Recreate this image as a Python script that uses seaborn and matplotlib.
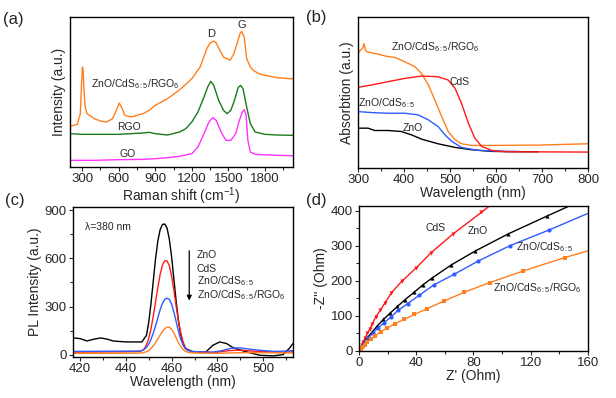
import matplotlib
matplotlib.use("Agg")
import matplotlib.pyplot as plt
from matplotlib.ticker import MultipleLocator
import seaborn as sns

# (a) Raman spectra
raman_x_orange = [200, 260, 285, 295, 302, 308, 315, 325, 340, 360, 400, 450, 500, 550, 580, 605, 625, 650,
                  700, 750, 800, 850, 900, 950, 1000, 1050, 1100, 1150, 1200, 1268, 1323, 1350, 1378, 1400,
                  1430, 1460, 1514, 1545, 1575, 1595, 1609, 1630, 1650, 1680, 1704, 1750, 1800, 1900, 2000, 2030]
raman_y_orange = [122, 128, 160, 250, 300, 290, 230, 180, 160, 155, 145, 138, 135, 145, 170, 192, 178, 155,
                  150, 155, 160, 170, 185, 195, 205, 218, 232, 248, 265, 300, 355, 372, 378, 372,
                  350, 330, 320, 340, 375, 400, 407, 390, 325, 300, 290, 280, 275, 268, 265, 265]
raman_x_rgo = [200, 300, 400, 500, 600, 700, 800, 850, 900, 1000, 1100, 1150, 1200, 1250, 1300, 1330, 1355,
               1380, 1420, 1460, 1490, 1520, 1550, 1580, 1600, 1620, 1650, 1680, 1720, 1800, 1900, 2030]
raman_y_rgo = [100, 98, 98, 98, 98, 100, 102, 104, 100, 96, 105, 115, 135, 165, 210, 240, 257,
               245, 200, 170, 160, 170, 200, 238, 245, 235, 180, 130, 105, 98, 96, 95]
raman_x_go = [200, 400, 600, 800, 900, 1000, 1100, 1200, 1250, 1300, 1340, 1372, 1400, 1440, 1480, 1520,
              1560, 1590, 1615, 1631, 1645, 1660, 1680, 1720, 1900, 2030]
raman_y_go = [20, 20, 22, 23, 25, 28, 32, 40, 60, 100, 135, 148, 140, 105, 80, 80,
              100, 140, 165, 172, 155, 80, 45, 38, 35, 34]

# (b) UV-vis absorption
abs_x_rgo = [300, 305, 310, 313, 316, 320, 330, 345, 360, 380, 402, 424, 438, 453, 467, 482, 496, 511, 525,
             547, 591, 692, 800]
abs_y_rgo = [345, 355, 360, 375, 355, 350, 347, 343, 337, 333, 320, 305, 285, 250, 205, 155, 110, 85, 73,
             68, 68, 69, 73]
abs_x_cds = [300, 329, 365, 402, 438, 474, 496, 511, 525, 540, 554, 569, 591, 620, 800]
abs_y_cds = [243, 250, 260, 270, 277, 275, 265, 240, 195, 135, 90, 65, 53, 49, 48]
abs_x_zc = [300, 329, 365, 402, 431, 453, 474, 489, 504, 525, 562, 620, 650]
abs_y_zc = [170, 167, 165, 165, 160, 145, 125, 100, 80, 62, 53, 50, 50]
abs_x_zno = [300, 322, 336, 365, 394, 416, 438, 474, 511, 547, 591, 649, 692]
abs_y_zno = [120, 120, 113, 113, 110, 100, 87, 73, 62, 55, 50, 49, 49]

# (c) PL spectra
pl_x_zno = [417, 420, 423, 426, 429, 432, 434.5, 440, 447, 449, 450, 451, 452, 453, 454, 455, 456, 457, 458,
            459, 460, 461, 462, 463, 464, 465, 466, 469.5, 475, 478, 481, 484, 487, 492.7, 498.5, 504.4,
            508.7, 511.6, 513]
pl_y_zno = [104, 100, 85, 96, 104, 96, 85, 79, 79, 120, 200, 320, 460, 600, 710, 780, 812, 815, 790,
            720, 610, 470, 330, 210, 120, 65, 38, 17, 17, 58, 79, 69, 42, 17, -4, -8,
            0, 42, 69]
pl_x_cds = [417, 440, 446, 447, 448, 449, 450, 451, 452, 453, 454, 455, 456, 457, 458, 459, 460, 461, 462,
            463, 464, 465, 466, 467, 469, 472, 480, 485, 490, 495, 500, 505, 510, 513]
pl_y_cds = [15, 18, 20, 25, 35, 60, 100, 160, 240, 330, 420, 500, 560, 585, 585, 555, 490, 400, 300,
            210, 135, 80, 45, 28, 18, 15, 15, 25, 28, 22, 20, 15, 15, 18]
pl_x_zc = [417, 446, 447, 448, 449, 450, 451, 452, 453, 454, 455, 456, 457, 458, 459, 460, 461, 462, 463,
           464, 465, 466, 467, 469, 472, 478, 482, 486, 490, 495, 500, 505, 510, 513]
pl_y_zc = [20, 22, 25, 32, 45, 65, 95, 135, 180, 230, 280, 320, 345, 352, 345, 315, 265, 205, 145,
           95, 60, 38, 27, 20, 17, 15, 25, 40, 42, 32, 25, 20, 22, 25]
pl_x_rgo = [417, 445, 447, 449, 450, 451, 452, 453, 454, 455, 456, 457, 458, 459, 460, 461, 462, 463, 464,
            465, 466, 468, 472, 480, 490, 500, 513]
pl_y_rgo = [8, 9, 10, 18, 25, 38, 55, 75, 98, 122, 145, 162, 172, 170, 158, 135, 105, 75, 50,
            32, 20, 12, 9, 8, 12, 12, 10]

# (d) Nyquist plots
eis_x_cds = [0.5, 1.2, 1.9, 3.0, 4.2, 5.9, 7.7, 9.4, 11.7, 14.8, 18.3, 22.7, 30.0, 40.0, 50.4, 65.6, 85.5, 95]
eis_y_cds = [2, 9, 16, 26, 37, 50, 64, 78, 97, 116, 138, 166, 199, 237, 280, 333, 395, 425]
eis_x_zno = [0.7, 1.9, 4.0, 6.3, 9.4, 12.9, 17.1, 21.8, 26.9, 32.1, 38.7, 44.5, 51.1, 64.4, 81.3, 104.0,
             131.7, 148]
eis_y_zno = [6, 15, 28, 40, 55, 72, 90, 108, 127, 146, 168, 188, 208, 245, 285, 333, 385, 415]
eis_x_zc = [0.7, 2.1, 4.0, 6.6, 9.6, 13.4, 17.6, 22.3, 27.4, 34.0, 42.2, 52.2, 66.3, 83.2, 105.5, 133.0, 160]
eis_y_zc = [5, 14, 26, 37, 51, 66, 81, 97, 116, 135, 159, 188, 218, 256, 300, 345, 392]
eis_x_rgo = [1.2, 2.3, 4.0, 5.9, 8.2, 11.2, 15.2, 19.9, 25.1, 31.6, 38.7, 47.6, 59.3, 73.3, 91.4, 114.8,
             143.6, 160]
eis_y_rgo = [6, 11, 18, 26, 33, 43, 55, 66, 78, 90, 104, 121, 142, 167, 195, 228, 266, 285]

c_orange = "#ff7f1e"
c_red = "#ff1a1a"
c_blue = "#2e5bff"
c_green = "#1a7a1a"
c_mag = "#ff33ff"

sns.set_style("ticks")
plt.rcParams["font.family"] = ["Liberation Sans", "DejaVu Sans"]
plt.rcParams["mathtext.fontset"] = "custom"
plt.rcParams["mathtext.rm"] = "Liberation Sans"
plt.rcParams["mathtext.it"] = "Liberation Sans:italic"
plt.rcParams["mathtext.default"] = "regular"
plt.rcParams["axes.linewidth"] = 1.0
plt.rcParams["xtick.major.size"] = 3
plt.rcParams["ytick.major.size"] = 3
plt.rcParams["xtick.minor.size"] = 2
plt.rcParams["ytick.minor.size"] = 2
plt.rcParams["xtick.major.pad"] = 1.5
plt.rcParams["ytick.major.pad"] = 1.5

fig = plt.figure(figsize=(6.16, 3.98), dpi=100)
ax_a = fig.add_axes([0.1136, 0.5804, 0.362, 0.3769])
ax_b = fig.add_axes([0.5812, 0.5779, 0.3733, 0.3794])
ax_c = fig.add_axes([0.118, 0.103, 0.3576, 0.3769])
ax_d = fig.add_axes([0.5828, 0.1181, 0.3717, 0.3643])

TICK = 9.5
LAB = 10
ANN = 7.5
lw = 1.0

# ---- (a)
sns.lineplot(x=raman_x_orange, y=raman_y_orange, ax=ax_a, color=c_orange, lw=lw, sort=False)
sns.lineplot(x=raman_x_rgo, y=raman_y_rgo, ax=ax_a, color=c_green, lw=lw, sort=False)
sns.lineplot(x=raman_x_go, y=raman_y_go, ax=ax_a, color=c_mag, lw=lw, sort=False)
ax_a.set_xlim(200, 2030)
ax_a.set_ylim(0, 450)
ax_a.set_yticks([])
ax_a.xaxis.set_major_locator(MultipleLocator(300))
ax_a.xaxis.set_minor_locator(MultipleLocator(150))
ax_a.set_xticks(range(300, 1801, 300))
ax_a.set_xlabel("Raman shift (cm$^{-1}$)", fontsize=LAB, labelpad=0)
ax_a.set_ylabel("Intensity (a.u.)", fontsize=LAB, labelpad=3)
ax_a.text(374, 250, "ZnO/CdS$_{6:5}$/RGO$_6$", fontsize=ANN, va="center")
ax_a.text(586, 120, "RGO", fontsize=ANN, va="center")
ax_a.text(608, 38, "GO", fontsize=ANN, va="center")
ax_a.text(1355, 400, "D", fontsize=ANN + 0.5, ha="center", va="center")
ax_a.text(1609, 425, "G", fontsize=ANN + 0.5, ha="center", va="center")

# ---- (b)
sns.lineplot(x=abs_x_zno, y=abs_y_zno, ax=ax_b, color="black", lw=lw, sort=False)
sns.lineplot(x=abs_x_zc, y=abs_y_zc, ax=ax_b, color=c_blue, lw=lw, sort=False)
sns.lineplot(x=abs_x_rgo, y=abs_y_rgo, ax=ax_b, color=c_orange, lw=lw, sort=False)
sns.lineplot(x=abs_x_cds, y=abs_y_cds, ax=ax_b, color=c_red, lw=lw, sort=False)
ax_b.set_xlim(300, 800)
ax_b.set_ylim(0, 455)
ax_b.set_yticks([])
ax_b.xaxis.set_major_locator(MultipleLocator(100))
ax_b.xaxis.set_minor_locator(MultipleLocator(50))
ax_b.set_xlabel("Wavelength (nm)", fontsize=LAB, labelpad=0)
ax_b.set_ylabel("Absorbtion (a.u.)", fontsize=LAB, labelpad=3)
ax_b.text(371, 365, "ZnO/CdS$_{6:5}$/RGO$_6$", fontsize=ANN, va="center")
ax_b.text(498, 260, "CdS", fontsize=ANN, va="center")
ax_b.text(301, 195, "ZnO/CdS$_{6:5}$", fontsize=ANN, va="center")
ax_b.text(396, 120, "ZnO", fontsize=ANN, va="center")

# ---- (c)
sns.lineplot(x=pl_x_zno, y=pl_y_zno, ax=ax_c, color="black", lw=lw, sort=False)
sns.lineplot(x=pl_x_cds, y=pl_y_cds, ax=ax_c, color=c_red, lw=lw, sort=False)
sns.lineplot(x=pl_x_zc, y=pl_y_zc, ax=ax_c, color=c_blue, lw=lw, sort=False)
sns.lineplot(x=pl_x_rgo, y=pl_y_rgo, ax=ax_c, color=c_orange, lw=lw, sort=False)
ax_c.set_xlim(416.8, 513)
ax_c.set_ylim(-15, 921)
ax_c.xaxis.set_major_locator(MultipleLocator(20))
ax_c.xaxis.set_minor_locator(MultipleLocator(10))
ax_c.yaxis.set_major_locator(MultipleLocator(300))
ax_c.yaxis.set_minor_locator(MultipleLocator(150))
ax_c.set_xlabel("Wavelength (nm)", fontsize=LAB, labelpad=0)
ax_c.set_ylabel("PL Intensity (a.u.)", fontsize=LAB, labelpad=2)
ax_c.text(422.2, 796, "λ=380 nm", fontsize=ANN, va="center")
ax_c.annotate("", xy=(467.7, 320), xytext=(467.7, 665),
              arrowprops=dict(arrowstyle="-|>", color="black", lw=0.9, mutation_scale=7))
for txt, yy in [("ZnO", 624), ("CdS", 536), ("ZnO/CdS$_{6:5}$", 457), ("ZnO/CdS$_{6:5}$/RGO$_6$", 370)]:
    ax_c.text(470.9, yy, txt, fontsize=ANN, va="center")

# ---- (d)
ms = 3
sns.lineplot(x=eis_x_cds, y=eis_y_cds, ax=ax_d, color=c_red, lw=lw, sort=False, marker="v",
             markersize=ms, markeredgewidth=0, markevery=list(range(len(eis_x_cds) - 1)))
sns.lineplot(x=eis_x_zno, y=eis_y_zno, ax=ax_d, color="black", lw=lw, sort=False, marker="^",
             markersize=ms, markeredgewidth=0, markevery=list(range(len(eis_x_zno) - 1)))
sns.lineplot(x=eis_x_zc, y=eis_y_zc, ax=ax_d, color=c_blue, lw=lw, sort=False, marker="o",
             markersize=ms, markeredgewidth=0, markevery=list(range(len(eis_x_zc) - 1)))
sns.lineplot(x=eis_x_rgo, y=eis_y_rgo, ax=ax_d, color=c_orange, lw=lw, sort=False, marker="s",
             markersize=ms - 0.5, markeredgewidth=0, markevery=list(range(len(eis_x_rgo) - 1)))
ax_d.set_xlim(0, 160)
ax_d.set_ylim(0, 413)
ax_d.xaxis.set_major_locator(MultipleLocator(40))
ax_d.xaxis.set_minor_locator(MultipleLocator(20))
ax_d.yaxis.set_major_locator(MultipleLocator(100))
ax_d.yaxis.set_minor_locator(MultipleLocator(50))
ax_d.set_xlabel("Z' (Ohm)", fontsize=LAB, labelpad=0)
ax_d.set_ylabel("-Z'' (Ohm)", fontsize=LAB, labelpad=2)
ax_d.text(46.2, 350, "CdS", fontsize=ANN, va="center")
ax_d.text(76.1, 342, "ZnO", fontsize=ANN, va="center")
ax_d.text(109.4, 297, "ZnO/CdS$_{6:5}$", fontsize=ANN, va="center")
ax_d.text(93.3, 178, "ZnO/CdS$_{6:5}$/RGO$_6$", fontsize=ANN, va="center")

for ax in (ax_a, ax_b, ax_c, ax_d):
    ax.tick_params(which="both", direction="out", labelsize=TICK, width=0.8)
    for s in ax.spines.values():
        s.set_visible(True)
        s.set_linewidth(1.0)
        s.set_color("black")

fig.text(0.021, 0.95, "(a)", fontsize=12, va="center", ha="center")
fig.text(0.513, 0.955, "(b)", fontsize=12, va="center", ha="center")
fig.text(0.024, 0.495, "(c)", fontsize=12, va="center", ha="center")
fig.text(0.513, 0.495, "(d)", fontsize=12, va="center", ha="center")

fig.savefig("out.png", dpi=100)
